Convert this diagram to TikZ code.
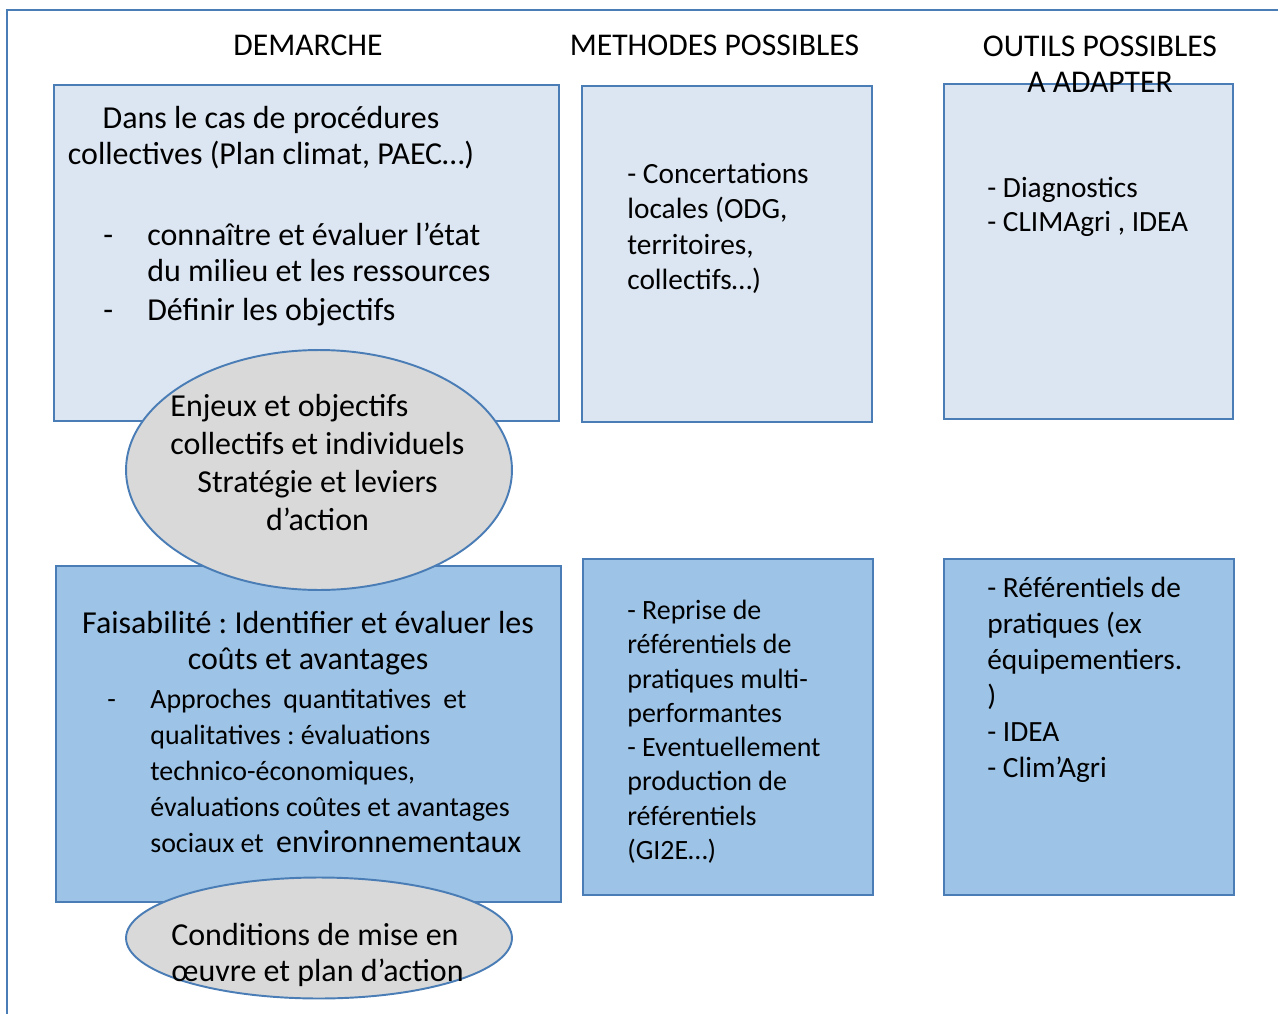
\documentclass[tikz,border=0pt]{standalone}
\usepackage{fontspec}
\setmainfont{Carlito}
\usetikzlibrary{shapes.geometric}

\definecolor{lineblue}{HTML}{4A7DB5}
\definecolor{palefill}{HTML}{DCE6F2}
\definecolor{midfill}{HTML}{9DC3E6}
\definecolor{ovalgrey}{HTML}{D9D9D9}

\newcommand{\bigfont}[1][21]{\fontsize{18.2}{#1}\selectfont}
\newcommand{\midfont}[1][20]{\fontsize{15.9}{#1}\selectfont}
\newcommand{\boxfont}[1][20]{\fontsize{16.7}{#1}\selectfont}
\newcommand{\dashitem}[1]{\leavevmode\llap{-\hspace{#1}}}
\frenchspacing

\tikzset{
  panel/.style={draw=lineblue, line width=1.4pt, inner sep=0pt, outer sep=0pt},
  oval/.style={ellipse, draw=lineblue, line width=1.1pt, fill=ovalgrey, inner sep=0pt},
  txt/.style={inner sep=0pt, align=flush left, text width=#1},
}

\begin{document}
\begin{tikzpicture}[x=0.02cm,y=-0.02cm]
          \useasboundingbox (0,0) rectangle (1278,1014);
          \draw[lineblue, line width=1.6pt] (7,1030) -- (7,10) -- (1300,10);

          % column 1
          \node[panel, fill=palefill, minimum width=10.1cm, minimum height=6.72cm] (dem1) at (306.5,253) {};
          \node[anchor=base, txt=9.5cm, align=flush center, font=\bigfont] (dem1head) at (271,128) {Dans le cas de procédures\\collectives (Plan climat, PAEC…)};
          \node[anchor=base west, txt=8cm, font=\bigfont] (dem1list) at (147,245) {\dashitem{19.4pt}connaître et évaluer l’état\\du milieu et les ressources\\[1pt]\dashitem{19.4pt}Définir les objectifs};

          \node[panel, fill=midfill, minimum width=10.1cm, minimum height=6.72cm] (dem2) at (308.5,734) {};
          \node[anchor=base, txt=10cm, align=flush center, font=\bigfont] (dem2head) at (308,633) {Faisabilité : Identifier et évaluer les\\coûts et avantages};
          \node[anchor=base west, txt=8.5cm, font={\midfont[20.5]}] (dem2list) at (150,708.5) {\dashitem{19.6pt}Approches\hspace{7pt}quantitatives\hspace{7pt}et\\qualitatives : évaluations\\technico-économiques,\\évaluations coûtes et avantages\\sociaux et\hspace{7pt}{\bigfont environnementaux}};

          \node[oval, minimum width=7.72cm, minimum height=4.8cm] (enjeux) at (319,470) {};
          \node[anchor=base, txt=8cm, align=flush center, font={\bigfont[21.8]}] (enjeuxtxt) at (317.5,416) {\rlap{Enjeux et objectifs}\phantom{collectifs et individuels}\\collectifs et individuels\\Stratégie et leviers\\d’action};

          \node[oval, minimum width=7.72cm, minimum height=2.42cm] (conditions) at (319,938) {};
          \node[anchor=base west, txt=7cm, font=\bigfont] (conditionstxt) at (171,945) {Conditions de mise en\\œuvre et plan d’action};

          % column 2
          \node[panel, fill=palefill, minimum width=5.8cm, minimum height=6.72cm] (met1) at (727,254) {};
          \node[anchor=base west, txt=5cm, font={\boxfont[20.2]}] (met1txt) at (627,183.5) {- Concertations\\locales (ODG,\\territoires,\\collectifs…)};

          \node[panel, fill=midfill, minimum width=5.8cm, minimum height=6.72cm] (met2) at (728,727) {};
          \node[anchor=base west, txt=5cm, font={\midfont[19.5]}] (met2txt) at (627,619.5) {- Reprise de\\référentiels de\\pratiques multi-\\performantes\\- Eventuellement\\production de\\référentiels\\(GI2E…)};

          % column 3
          \node[panel, fill=palefill, minimum width=5.78cm, minimum height=6.7cm] (out1) at (1088.5,251.5) {};
          \node[anchor=base west, txt=5cm, font={\boxfont[19.4]}] (out1txt) at (987,197) {- Diagnostics\\- CLIMAgri , IDEA};

          \node[panel, fill=midfill, minimum width=5.8cm, minimum height=6.72cm] (out2) at (1089,727) {};
          \node[anchor=base west, txt=5cm, font={\boxfont[20.5]}] (out2txt) at (987,597) {- Référentiels de\\pratiques (ex\\équipementiers.\\)\\- IDEA\\- Clim’Agri};

          % headings
          \node[anchor=base, font=\fontsize{18}{21}\selectfont] (hdem) at (308,55) {DEMARCHE};
          \node[anchor=base, font=\fontsize{18}{21}\selectfont] (hmet) at (714.5,55) {METHODES POSSIBLES};
          \node[anchor=base, txt=6cm, align=flush center, font=\fontsize{18}{21}\selectfont] (hout) at (1100,56) {OUTILS POSSIBLES\\A ADAPTER};
\end{tikzpicture}
\end{document}
